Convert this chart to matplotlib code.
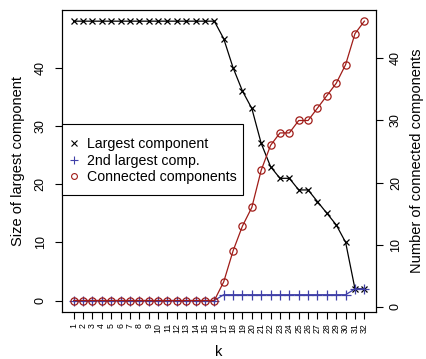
import matplotlib
matplotlib.use("Agg")
import matplotlib.pyplot as plt
from matplotlib.lines import Line2D
from matplotlib.patches import Rectangle

plt.rcParams['font.family'] = ['Liberation Sans', 'DejaVu Sans']

k = list(range(1, 33))
largest = [48] * 16 + [45, 40, 36, 33, 27, 23, 21, 21, 19, 19, 17, 15, 13, 10, 2, 2]
second = [0] * 16 + [1] * 14 + [2, 2]
n_components = [1] * 16 + [4, 9, 13, 16, 22, 26, 28, 28, 30, 30, 32, 34, 36, 39, 44, 46]
k_labels = [str(v) for v in k]

black = "#000000"
blue = "#4040a8"
red = "#a01c18"

fig = plt.figure(figsize=(4.27, 3.59), dpi=100)
ax = fig.add_axes([62 / 427, 1 - 311.7 / 359, 314 / 427, 301.7 / 359])

lw = 0.9
ax.plot(k, largest, color=black, lw=lw, marker="x", ms=5, mew=0.9, zorder=3)
ax.plot(k, second, color=blue, lw=lw, marker="+", ms=6.5, mew=0.9, zorder=3)
ax.set_xlim(1 - 0.04 * 31, 32 + 0.04 * 31)
ax.set_ylim(0 - 0.04 * 48, 48 + 0.04 * 48)
ax.set_yticks([0, 10, 20, 30, 40])
ax.set_xticks(k)
ax.set_xticklabels(k_labels, rotation=90, fontsize=6.3)
ax.tick_params(axis="x", length=5, width=0.8, pad=3)
ax.tick_params(axis="y", length=5, width=0.8, pad=6, labelsize=9)
for lab in ax.get_yticklabels():
    lab.set_rotation(90)
    lab.set_va("center")
ax.set_ylabel("Size of largest component", fontsize=10.5, va="center")
ax.yaxis.set_label_coords(-0.14, 0.5)
ax.set_xlabel("k", fontsize=10.5, va="center")
ax.xaxis.set_label_coords(0.5, -0.134)
for s in ax.spines.values():
    s.set_linewidth(0.8)

ax2 = ax.twinx()
ax2.plot(k, n_components, color=red, lw=lw, marker="o", ms=5.2, mew=0.9,
         mfc="none", zorder=3)
lo, hi = min(n_components), max(n_components)
ax2.set_ylim(lo - 0.04 * (hi - lo), hi + 0.04 * (hi - lo))
ax2.set_yticks([0, 10, 20, 30, 40])
ax2.tick_params(axis="y", length=5, width=0.8, pad=5, labelsize=9)
for lab in ax2.get_yticklabels():
    lab.set_rotation(90)
    lab.set_va("center")
ax2.set_ylabel("Number of connected components", fontsize=10.5, va="center")
ax2.yaxis.set_label_coords(1.1306, 0.5)
for s in ax2.spines.values():
    s.set_linewidth(0.8)

# legend box drawn separately so its padding can be set per side
ax2.add_patch(Rectangle((0.0, 0.387), 0.576, 0.235, transform=ax2.transAxes,
                        facecolor="white", edgecolor=black, lw=0.8, zorder=4,
                        clip_on=False))
handles = [
    Line2D([], [], ls="none", marker="x", color=black, ms=4.2, mew=0.8),
    Line2D([], [], ls="none", marker="+", color=blue, ms=5.5, mew=0.8),
    Line2D([], [], ls="none", marker="o", color=red, mfc="none", ms=4.2, mew=0.8),
]
labels = ["Largest component", "2nd largest comp.", "Connected components"]
leg = ax2.legend(handles, labels, loc="upper left", bbox_to_anchor=(0.016, 0.579),
                 borderaxespad=0, frameon=False, fontsize=10.2, handlelength=1.0,
                 handletextpad=0.4, labelspacing=0.18, borderpad=0)
leg.set_zorder(5)

fig.savefig("out.png", dpi=100)
